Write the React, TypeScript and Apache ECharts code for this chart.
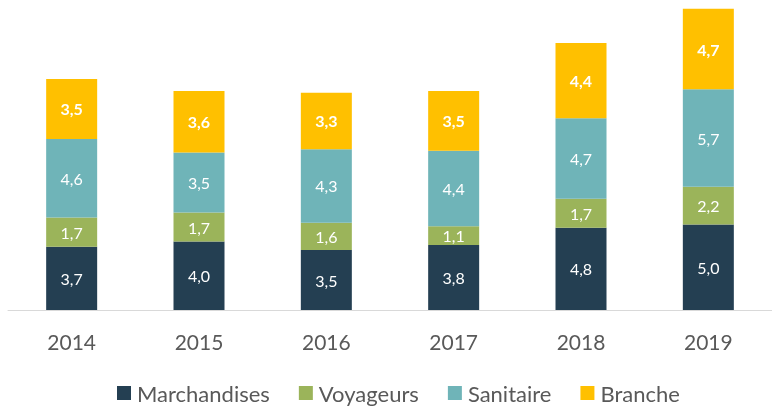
import React, { useEffect, useRef } from "react";
import * as echarts from "echarts";

const years = ["2014", "2015", "2016", "2017", "2018", "2019"];
const marchandises = [3.7, 4.0, 3.5, 3.8, 4.8, 5.0];
const voyageurs = [1.7, 1.7, 1.6, 1.1, 1.7, 2.2];
const sanitaire = [4.6, 3.5, 4.3, 4.4, 4.7, 5.7];
const branche = [3.5, 3.6, 3.3, 3.5, 4.4, 4.7];

const FONT = "Lato, 'Open Sans', sans-serif";

export default function App() {
  const ref = useRef<HTMLDivElement>(null);
  useEffect(() => {
    if (!ref.current) return;
    const chart = echarts.init(ref.current, undefined, { renderer: "svg" });
    const fmt = (p: any) => Number(p.value).toFixed(1).replace(".", ",");
    const mk = (name: string, data: number[], color: string, bold: boolean) => ({
      name,
      type: "bar",
      stack: "total",
      data,
      barWidth: 51,
      itemStyle: { color },
      label: {
        show: true,
        position: "inside",
        color: "#ffffff",
        fontSize: 16,
        fontFamily: FONT,
        fontWeight: bold ? "bold" : "normal",
        formatter: fmt,
      },
    });
    chart.setOption({
      animation: false,
      textStyle: { fontFamily: FONT },
      grid: { left: 8, top: 2, width: 774, height: 308 },
      xAxis: {
        type: "category",
        data: years,
        axisLine: { lineStyle: { color: "#d9d9d9", width: 1 } },
        axisTick: { show: false },
        axisLabel: { color: "#595959", fontSize: 21, fontFamily: FONT, margin: 21 },
      },
      yAxis: {
        type: "value",
        min: 0,
        max: 18,
        show: false,
        splitLine: { show: false },
      },
      legend: {
        top: 382,
        left: 117,
        padding: 0,
        itemWidth: 14,
        itemHeight: 14,
        itemGap: 29,
        icon: "rect",
        textStyle: {
          color: "#595959",
          fontSize: 22,
          lineHeight: 22,
          fontFamily: FONT,
          padding: [0, 0, 0, 1],
        },
        data: ["Marchandises", "Voyageurs", "Sanitaire", "Branche"],
      },
      series: [
        mk("Marchandises", marchandises, "#243F52", false),
        mk("Voyageurs", voyageurs, "#9BB45A", false),
        mk("Sanitaire", sanitaire, "#6FB4B8", false),
        mk("Branche", branche, "#FFC000", true),
      ],
    });
    return () => chart.dispose();
  }, []);
  return (
    <div
      ref={ref}
      style={{ position: "fixed", left: 0, top: 0, width: 772, height: 406 }}
    />
  );
}
